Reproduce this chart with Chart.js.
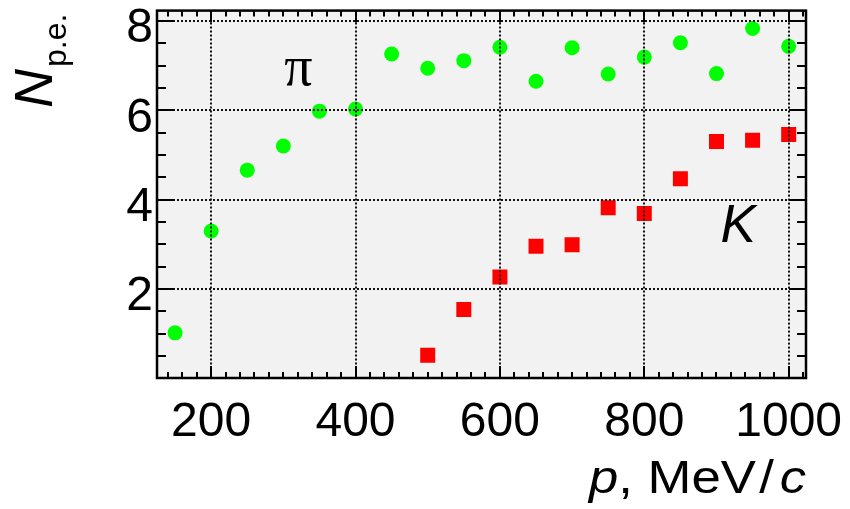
<!DOCTYPE html>
<html>
<head>
<meta charset="utf-8">
<script src="https://cdn.jsdelivr.net/npm/chart.js@4"></script>
<style>
  html, body { margin: 0; padding: 0; background: #fff; }
  canvas { display: block; }
</style>
</head>
<body>
<canvas id="c" width="850" height="509"></canvas>
<script>
// momentum, MeV/c
const piP = [150, 200, 250, 300, 350, 400, 450, 500, 550, 600, 650, 700, 750, 800, 850, 900, 950, 1000];
const piN = [1.02, 3.30, 4.66, 5.20, 5.98, 6.03, 7.26, 6.94, 7.11, 7.41, 6.65, 7.40, 6.81, 7.19, 7.51, 6.82, 7.83, 7.43];
const kP = [500, 550, 600, 650, 700, 750, 800, 850, 900, 950, 1000];
const kN = [0.52, 1.54, 2.27, 2.96, 2.99, 3.82, 3.69, 4.47, 5.30, 5.33, 5.46];
const xTicks = [200, 400, 600, 800, 1000];
const yTicks = [2, 4, 6, 8];

const toPts = (xs, ys) => xs.map((x, i) => ({ x: x, y: ys[i] }));

// ROOT-like frame: grey pad, dotted grid on top of markers, ticks on all sides
const frame = {
    id: 'frame',
    beforeDatasetsDraw(chart) {
        const a = chart.chartArea, ctx = chart.ctx;
        ctx.save();
        ctx.fillStyle = '#f2f2f2';
        ctx.fillRect(a.left, a.top, a.right - a.left, a.bottom - a.top);
        ctx.restore();
    },
    afterDatasetsDraw(chart) {
        const a = chart.chartArea, ctx = chart.ctx;
        const xs = chart.scales.x, ys = chart.scales.y;
        ctx.save();
        // grid
        ctx.strokeStyle = '#111';
        ctx.lineWidth = 2;
        ctx.setLineDash([2, 2]);
        xTicks.forEach(v => {
            const px = Math.round(xs.getPixelForValue(v));
            ctx.beginPath(); ctx.moveTo(px, a.top); ctx.lineTo(px, a.bottom); ctx.stroke();
        });
        yTicks.forEach(v => {
            const py = Math.round(ys.getPixelForValue(v));
            ctx.beginPath(); ctx.moveTo(a.left, py); ctx.lineTo(a.right, py); ctx.stroke();
        });
        ctx.setLineDash([]);
        // tick marks
        ctx.strokeStyle = '#000';
        ctx.lineWidth = 2;
        for (let v = 140; v <= xs.max; v += 20) {
            const px = Math.round(xs.getPixelForValue(v));
            const len = (v % 200 === 0) ? 12 : 6;
            ctx.beginPath();
            ctx.moveTo(px, a.bottom); ctx.lineTo(px, a.bottom - len);
            ctx.moveTo(px, a.top); ctx.lineTo(px, a.top + len);
            ctx.stroke();
        }
        for (let v = 0.5; v <= ys.max; v += 0.5) {
            const py = Math.round(ys.getPixelForValue(v));
            const len = (v % 2 === 0) ? 17 : 9;
            ctx.beginPath();
            ctx.moveTo(a.left, py); ctx.lineTo(a.left + len, py);
            ctx.moveTo(a.right, py); ctx.lineTo(a.right - len, py);
            ctx.stroke();
        }
        // frame
        ctx.lineWidth = 2.5;
        ctx.strokeRect(a.left, a.top, a.right - a.left, a.bottom - a.top);

        // particle labels
        ctx.fillStyle = '#000';
        ctx.textAlign = 'center';
        ctx.textBaseline = 'alphabetic';
        ctx.font = '56px "Liberation Serif"';
        ctx.fillText('\u03c0', xs.getPixelForValue(321), ys.getPixelForValue(6.56));
        ctx.font = 'italic 53px "Liberation Sans"';
        ctx.fillText('K', xs.getPixelForValue(930), ys.getPixelForValue(3.05));
        ctx.restore();
    },
    afterDraw(chart) {
        const ctx = chart.ctx;
        ctx.save();
        ctx.fillStyle = '#000';
        ctx.textBaseline = 'alphabetic';
        // x title: p, MeV/c  (right aligned, ROOT text is a bit wider)
        const parts = [
            ['italic 46px "Liberation Sans"', 'p', 0],
            ['46px "Liberation Sans"', ', MeV', 0],
            ['46px "Liberation Sans"', '/', 3],
            ['italic 46px "Liberation Sans"', 'c', 5]
        ];
        let w = 0;
        parts.forEach(p => { ctx.font = p[0]; w += p[2] + ctx.measureText(p[1]).width; });
        const sx = 217 / w;
        ctx.save();
        ctx.translate(806 - 217, 493);
        ctx.scale(sx, 1);
        let x = 0;
        parts.forEach(p => { ctx.font = p[0]; x += p[2]; ctx.fillText(p[1], x, 0); x += ctx.measureText(p[1]).width; });
        ctx.restore();
        // y title: N_p.e. rotated
        ctx.translate(52, 108);
        ctx.rotate(-Math.PI / 2);
        ctx.font = 'italic 54px "Liberation Sans"';
        ctx.fillText('N', 0, 0);
        const nw = ctx.measureText('N').width;
        ctx.font = '32px "Liberation Sans"';
        ctx.fillText('p.e.', nw + 2, 14);
        ctx.restore();
    }
};

new Chart(document.getElementById('c'), {
    type: 'scatter',
    data: {
        datasets: [
            { label: 'pi', data: toPts(piP, piN), pointStyle: 'circle', pointRadius: 7.5, backgroundColor: '#00ff00', borderWidth: 0 },
            { label: 'K', data: toPts(kP, kN), pointStyle: 'rect', pointRadius: 10.6, backgroundColor: '#ff0000', borderWidth: 0 }
        ]
    },
    options: {
        responsive: false,
        animation: false,
        events: [],
        layout: { padding: { top: 7, right: 44, left: 0, bottom: 0 } },
        plugins: { legend: { display: false }, tooltip: { enabled: false } },
        scales: {
            x: {
                type: 'linear', min: 125, max: 1024,
                afterBuildTicks: s => { s.ticks = xTicks.map(v => ({ value: v })); },
                afterFit: s => { s.height = 131; s.paddingLeft = 0; s.paddingRight = 0; },
                grid: { display: false, drawTicks: false },
                border: { display: false },
                ticks: { color: '#000', padding: 16, maxRotation: 0, callback: v => String(v), font: { family: 'Liberation Sans', size: 48 } }
            },
            y: {
                type: 'linear', min: 0.01, max: 8.23,
                afterBuildTicks: s => { s.ticks = yTicks.map(v => ({ value: v })); },
                afterFit: s => { s.width = 157; s.paddingTop = 0; s.paddingBottom = 0; },
                grid: { display: false, drawTicks: false },
                border: { display: false },
                ticks: { color: '#000', padding: 4, labelOffset: 8, callback: v => String(v), font: { family: 'Liberation Sans', size: 48 } }
            }
        }
    },
    plugins: [frame]
});
</script>
</body>
</html>
